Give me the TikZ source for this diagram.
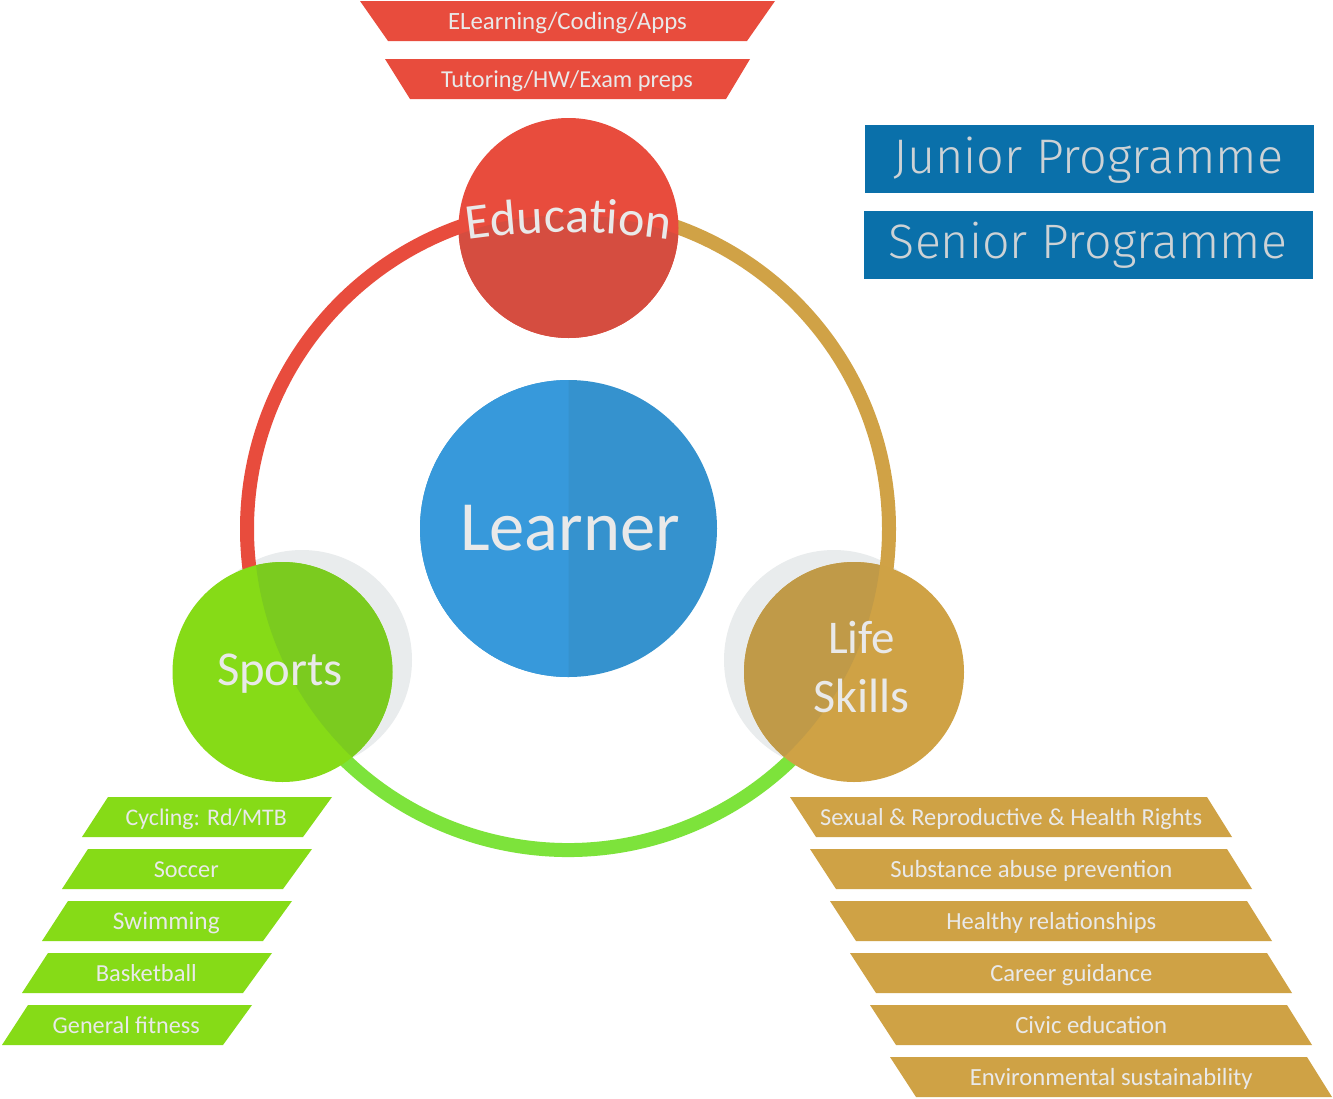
\documentclass[tikz,border=0pt]{standalone}
\usepackage{fontspec}
\setmainfont{Carlito}
\newfontfamily\progfont{Fira Sans Light}
\usetikzlibrary{decorations.text}
\definecolor{redc}{HTML}{E84C3D}
\definecolor{redd}{HTML}{D54D40}
\definecolor{goldc}{HTML}{CFA245}
\definecolor{goldd}{HTML}{C09A48}
\definecolor{goldring}{HTML}{D0A246}
\definecolor{greenc}{HTML}{86DB17}
\definecolor{greend}{HTML}{7BCB1F}
\definecolor{greenring}{HTML}{7DE33B}
\definecolor{bluel}{HTML}{3799DB}
\definecolor{bluer}{HTML}{3592CE}
\definecolor{boxblue}{HTML}{0A70AA}
\definecolor{shadowc}{HTML}{E9ECED}
\definecolor{txtc}{HTML}{E9E9E9}
\definecolor{boxtxt}{HTML}{CDD2D5}
\newcommand\fitw[2]{\resizebox{#1pt}{!}{#2}}
\newcommand\bfnt{\fontsize{24}{24}\selectfont}
\begin{document}
\begin{tikzpicture}[x=1pt,y=-1pt,
  lbl/.style={inner sep=0pt, anchor=base, text=txtc},
  boxlbl/.style={inner sep=0pt, anchor=base, text=boxtxt},
  ringarc/.style={line width=14pt},
  bubble/.style={circle, inner sep=0pt, minimum size=220pt},
  shadowdisc/.style={fill=shadowc}]
\fill[white] (0,0) rectangle (1333,1098);
\useasboundingbox (0,0) rectangle (1333,1098);
\coordinate (c) at (568,529);
% shadows
\fill[shadowdisc] (302,660) circle[radius=110];
\fill[shadowdisc] (834,660) circle[radius=110];
% ring
\draw[ringarc, redc] (c) ++(270:321) arc[start angle=270, end angle=153.4, radius=321];
\draw[ringarc, goldring] (c) ++(270:321) arc[start angle=270, end angle=386.6, radius=321];
\draw[ringarc, greenring] (c) ++(153.4:321) arc[start angle=153.4, end angle=26.6, radius=321];
% bubbles
\node[bubble, fill=redc] (edu) at (568.5,228) {};
\node[bubble, fill=greenc] (sports) at (282.5,672) {};
\node[bubble, fill=goldc] (life) at (854,672) {};
\begin{scope}
\clip (c) circle[radius=314];
\fill[redd] (edu.center) circle[radius=110];
\fill[greend] (sports.center) circle[radius=110];
\fill[goldd] (life.center) circle[radius=110];
\end{scope}
% learner
\node[circle, inner sep=0pt, minimum size=297pt, fill=bluer] (learner) at (568.5,528.5) {};
\fill[bluel] (568.5,380) arc[start angle=270, end angle=90, radius=148.5] -- cycle;
% labels in bubbles
\node[lbl] (tlearner) at (570,550) {\fitw{220}{\fontsize{70}{70}\selectfont Learner}};
\node[lbl] (tsports) at (280,685) {\fitw{126}{\fontsize{48}{48}\selectfont Sports}};
\node[lbl] (tlife) at (861.5,653) {\fitw{67}{\fontsize{46}{46}\selectfont Life}};
\node[lbl] (tskills) at (861,712) {\fitw{96}{\fontsize{48}{48}\selectfont Skills}};
\path[decorate, decoration={text along path, text align=center,
  text={|\color{txtc}\fontsize{50}{50}\selectfont|Education}}]
  (465,240) .. controls (533,230) and (603,230) .. (672,240);
% red banners
\fill[redc] (360,1) -- (775,1) -- (747,41) -- (388,41) -- cycle;
\fill[redc] (385,59) -- (750,59) -- (726,99) -- (410,99) -- cycle;
\node[lbl] (e1) at (567.5,29) {\fitw{239}{\bfnt ELearning/Coding/Apps}};
\node[lbl] (e2) at (567,87) {\fitw{252}{\bfnt Tutoring/HW/Exam preps}};
% programme boxes
\fill[boxblue] (865,125) rectangle (1314,193);
\fill[boxblue] (864,211) rectangle (1313,279);
\node[boxlbl] (jun) at (1088,173) {\fitw{390}{\progfont\fontsize{44}{44}\selectfont Junior Programme}};
\node[boxlbl] (sen) at (1088,258) {\fitw{398}{\progfont\fontsize{44}{44}\selectfont Senior Programme}};
% green banners
\foreach \i/\w/\t in {0/161/{Cycling: Rd/MTB},1/65/Soccer,2/107/Swimming,3/101/Basketball,4/147/General fitness}{
  \fill[greenc] (108-20*\i,797+52*\i) -- (332-20*\i,797+52*\i) -- (303-20*\i,837+52*\i) -- (82-20*\i,837+52*\i) -- cycle;
  \node[lbl] (g\i) at (206.25-20*\i,825+52*\i) {\fitw{\w}{\bfnt \t}};
}
% gold banners
\foreach \i/\w/\t in {0/382/{Sexual \& Reproductive \& Health Rights},1/282/Substance abuse prevention,2/210/Healthy relationships,3/162/Career guidance,4/152/Civic education,5/283/Environmental sustainability}{
  \fill[goldc] (790+20*\i,797+52*\i) -- (1207+20*\i,797+52*\i) -- (1232+20*\i,837+52*\i) -- (816+20*\i,837+52*\i) -- cycle;
  \node[lbl] (l\i) at (1011.25+20*\i,825+52*\i) {\fitw{\w}{\bfnt \t}};
}
\end{tikzpicture}
\end{document}
